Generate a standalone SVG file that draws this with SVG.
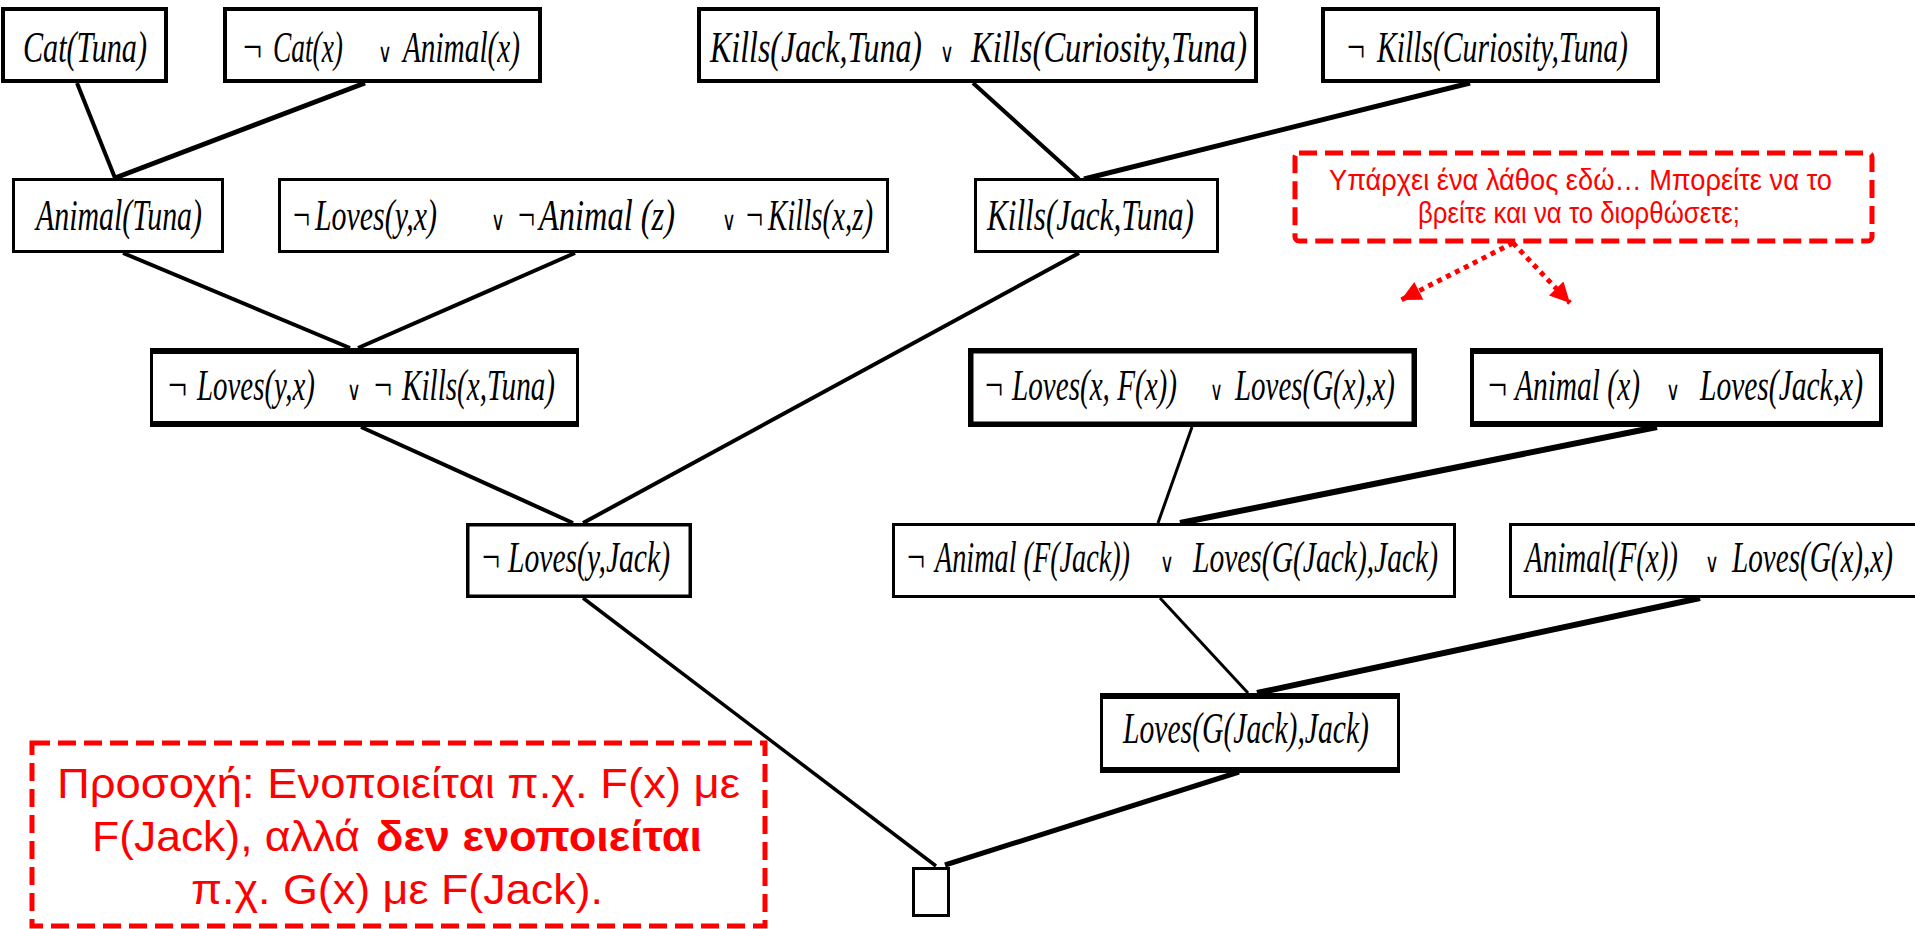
<svg xmlns="http://www.w3.org/2000/svg" width="1915" height="929" viewBox="0 0 1915 929">
<style>
.bx{fill:#fff;stroke:#000}
.t{font-family:"Liberation Serif","DejaVu Serif",serif;font-style:italic;font-size:30px;fill:#000}
.n{font-family:"Liberation Serif","DejaVu Serif",serif;font-size:30px;fill:#000}
.v{font-family:"DejaVu Serif","Liberation Serif",serif;font-size:18px;fill:#000}
.tb{stroke:#000;stroke-width:6}
.c{stroke:#000;fill:none;stroke-linecap:butt}
.rb{fill:none;stroke:#ff0000;stroke-width:5;stroke-dasharray:18 8}
.rt{font-family:"Liberation Sans","Arial",sans-serif;fill:#ff0000}
.ra{stroke:#ff0000;stroke-width:5;stroke-dasharray:5 5;fill:none}
</style>
<defs>
<marker id="ah" viewBox="0 0 20 20" refX="20" refY="10" markerWidth="22" markerHeight="20" markerUnits="userSpaceOnUse" orient="auto">
<path d="M0,0 L20,10 L0,20 z" fill="#ff0000"/>
</marker>
</defs>
<rect width="1915" height="929" fill="#fff"/>
<g id="connectors">
<line class="c" x1="77" y1="83" x2="115" y2="178" stroke-width="4"/>
<line class="c" x1="365" y1="83" x2="115" y2="178" stroke-width="5"/>
<line class="c" x1="123" y1="253" x2="350" y2="348" stroke-width="4"/>
<line class="c" x1="575" y1="253" x2="358" y2="348" stroke-width="4"/>
<line class="c" x1="361" y1="427" x2="573" y2="523" stroke-width="4"/>
<line class="c" x1="973" y1="83" x2="1079" y2="179" stroke-width="4"/>
<line class="c" x1="1470" y1="83" x2="1084" y2="179" stroke-width="5"/>
<line class="c" x1="1079" y1="253" x2="583" y2="523" stroke-width="4"/>
<line class="c" x1="1192" y1="427" x2="1158" y2="523" stroke-width="3"/>
<line class="c" x1="1657" y1="427" x2="1180" y2="523" stroke-width="6"/>
<line class="c" x1="1160" y1="598" x2="1248" y2="693" stroke-width="3"/>
<line class="c" x1="1700" y1="598" x2="1257" y2="693" stroke-width="6"/>
<line class="c" x1="583" y1="598" x2="936" y2="866" stroke-width="3.5"/>
<line class="c" x1="1239" y1="772" x2="945" y2="865" stroke-width="5"/>
</g>
<g id="n1">
<rect class="bx" x="3" y="9" width="163" height="72" stroke-width="4"/>
<g transform="translate(0,62) scale(1,1.45)">
<text class="t" x="23" y="0" textLength="124" lengthAdjust="spacingAndGlyphs">Cat(Tuna)</text>
</g>
</g>
<g id="n2">
<rect class="bx" x="225" y="9" width="315" height="72" stroke-width="4"/>
<g transform="translate(0,62) scale(1,1.45)">
<text class="n" x="243" y="0" textLength="19" lengthAdjust="spacingAndGlyphs">¬</text>
<text class="t" x="273" y="0" textLength="70" lengthAdjust="spacingAndGlyphs">Cat(x)</text>
<text class="v" x="378" y="0" textLength="14" lengthAdjust="spacingAndGlyphs">∨</text>
<text class="t" x="403" y="0" textLength="117" lengthAdjust="spacingAndGlyphs">Animal(x)</text>
</g>
</g>
<g id="n3">
<rect class="bx" x="699" y="9" width="557" height="72" stroke-width="4"/>
<g transform="translate(0,62) scale(1,1.45)">
<text class="t" x="710" y="0" textLength="212" lengthAdjust="spacingAndGlyphs">Kills(Jack,Tuna)</text>
<text class="v" x="940" y="0" textLength="14" lengthAdjust="spacingAndGlyphs">∨</text>
<text class="t" x="971" y="0" textLength="276" lengthAdjust="spacingAndGlyphs">Kills(Curiosity,Tuna)</text>
</g>
</g>
<g id="n4">
<rect class="bx" x="1323" y="9" width="335" height="72" stroke-width="4"/>
<g transform="translate(0,62) scale(1,1.45)">
<text class="n" x="1347" y="0" textLength="18" lengthAdjust="spacingAndGlyphs">¬</text>
<text class="t" x="1377" y="0" textLength="251" lengthAdjust="spacingAndGlyphs">Kills(Curiosity,Tuna)</text>
</g>
</g>
<g id="n5">
<rect class="bx" x="13.5" y="179.5" width="209" height="72" stroke-width="3"/>
<g transform="translate(0,230) scale(1,1.45)">
<text class="t" x="36" y="0" textLength="166" lengthAdjust="spacingAndGlyphs">Animal(Tuna)</text>
</g>
</g>
<g id="n6">
<rect class="bx" x="279.5" y="179.5" width="608" height="72" stroke-width="3"/>
<g transform="translate(0,230) scale(1,1.45)">
<text class="n" x="293" y="0" textLength="17" lengthAdjust="spacingAndGlyphs">¬</text>
<text class="t" x="315" y="0" textLength="122" lengthAdjust="spacingAndGlyphs">Loves(y,x)</text>
<text class="v" x="491" y="0" textLength="14" lengthAdjust="spacingAndGlyphs">∨</text>
<text class="n" x="518" y="0" textLength="17" lengthAdjust="spacingAndGlyphs">¬</text>
<text class="t" x="539" y="0" textLength="136" lengthAdjust="spacingAndGlyphs">Animal (z)</text>
<text class="v" x="722" y="0" textLength="14" lengthAdjust="spacingAndGlyphs">∨</text>
<text class="n" x="746" y="0" textLength="17" lengthAdjust="spacingAndGlyphs">¬</text>
<text class="t" x="768" y="0" textLength="105" lengthAdjust="spacingAndGlyphs">Kills(x,z)</text>
</g>
</g>
<g id="n7">
<rect class="bx" x="975.5" y="179.5" width="242" height="72" stroke-width="3"/>
<g transform="translate(0,230) scale(1,1.45)">
<text class="t" x="987" y="0" textLength="207" lengthAdjust="spacingAndGlyphs">Kills(Jack,Tuna)</text>
</g>
</g>
<g id="n8">
<rect class="bx" x="151.5" y="350" width="426" height="75" stroke-width="3"/>
<line class="tb" x1="150" y1="351" x2="579" y2="351"/>
<line class="tb" x1="150" y1="424" x2="579" y2="424"/>
<g transform="translate(0,400) scale(1,1.45)">
<text class="n" x="168" y="0" textLength="19" lengthAdjust="spacingAndGlyphs">¬</text>
<text class="t" x="197" y="0" textLength="118" lengthAdjust="spacingAndGlyphs">Loves(y,x)</text>
<text class="v" x="347" y="0" textLength="14" lengthAdjust="spacingAndGlyphs">∨</text>
<text class="n" x="374" y="0" textLength="18" lengthAdjust="spacingAndGlyphs">¬</text>
<text class="t" x="402" y="0" textLength="153" lengthAdjust="spacingAndGlyphs">Kills(x,Tuna)</text>
</g>
</g>
<g id="n9">
<rect class="bx" x="970.75" y="350.75" width="443.5" height="73.5" stroke-width="5.5"/>
<g transform="translate(0,400) scale(1,1.45)">
<text class="n" x="985" y="0" textLength="18" lengthAdjust="spacingAndGlyphs">¬</text>
<text class="t" x="1012" y="0" textLength="165" lengthAdjust="spacingAndGlyphs">Loves(x, F(x))</text>
<text class="v" x="1210" y="0" textLength="13" lengthAdjust="spacingAndGlyphs">∨</text>
<text class="t" x="1235" y="0" textLength="160" lengthAdjust="spacingAndGlyphs">Loves(G(x),x)</text>
</g>
</g>
<g id="n10">
<rect class="bx" x="1472" y="350" width="409" height="75" stroke-width="4"/>
<line class="tb" x1="1470" y1="351" x2="1883" y2="351"/>
<line class="tb" x1="1470" y1="424" x2="1883" y2="424"/>
<g transform="translate(0,400) scale(1,1.45)">
<text class="n" x="1488" y="0" textLength="19" lengthAdjust="spacingAndGlyphs">¬</text>
<text class="t" x="1515" y="0" textLength="125" lengthAdjust="spacingAndGlyphs">Animal (x)</text>
<text class="v" x="1666" y="0" textLength="14" lengthAdjust="spacingAndGlyphs">∨</text>
<text class="t" x="1700" y="0" textLength="163" lengthAdjust="spacingAndGlyphs">Loves(Jack,x)</text>
</g>
</g>
<g id="n11">
<rect class="bx" x="467.75" y="524.75" width="222.5" height="71.5" stroke-width="3.5"/>
<g transform="translate(0,572) scale(1,1.45)">
<text class="n" x="482" y="0" textLength="18" lengthAdjust="spacingAndGlyphs">¬</text>
<text class="t" x="508" y="0" textLength="162" lengthAdjust="spacingAndGlyphs">Loves(y,Jack)</text>
</g>
</g>
<g id="n12">
<rect class="bx" x="893.5" y="524.5" width="561" height="72" stroke-width="3"/>
<g transform="translate(0,572) scale(1,1.45)">
<text class="n" x="907" y="0" textLength="18" lengthAdjust="spacingAndGlyphs">¬</text>
<text class="t" x="935" y="0" textLength="195" lengthAdjust="spacingAndGlyphs">Animal (F(Jack))</text>
<text class="v" x="1160" y="0" textLength="14" lengthAdjust="spacingAndGlyphs">∨</text>
<text class="t" x="1193" y="0" textLength="245" lengthAdjust="spacingAndGlyphs">Loves(G(Jack),Jack)</text>
</g>
</g>
<g id="n13">
<rect class="bx" x="1510.5" y="524.5" width="420" height="72" stroke-width="3"/>
<g transform="translate(0,572) scale(1,1.45)">
<text class="t" x="1525" y="0" textLength="153" lengthAdjust="spacingAndGlyphs">Animal(F(x))</text>
<text class="v" x="1705" y="0" textLength="14" lengthAdjust="spacingAndGlyphs">∨</text>
<text class="t" x="1732" y="0" textLength="161" lengthAdjust="spacingAndGlyphs">Loves(G(x),x)</text>
</g>
</g>
<g id="n14">
<rect class="bx" x="1101.5" y="695" width="297" height="76" stroke-width="3"/>
<line class="tb" x1="1100" y1="696" x2="1400" y2="696"/>
<line class="tb" x1="1100" y1="770" x2="1400" y2="770"/>
<g transform="translate(0,743) scale(1,1.45)">
<text class="t" x="1123" y="0" textLength="246" lengthAdjust="spacingAndGlyphs">Loves(G(Jack),Jack)</text>
</g>
</g>
<g id="n15">
<rect class="bx" x="913.5" y="868.5" width="35" height="47" stroke-width="3"/>
</g>
<g id="note-top">
<rect class="rb" x="1295" y="153" width="577" height="88" rx="4"/>
<text class="rt" x="1329" y="190" font-size="29" textLength="503" lengthAdjust="spacingAndGlyphs">Υπάρχει ένα λάθος εδώ… Μπορείτε να το</text>
<text class="rt" x="1418" y="223" font-size="29" textLength="322" lengthAdjust="spacingAndGlyphs">βρείτε και να το διορθώσετε;</text>
<path class="ra" d="M1513,243 L1401,300" marker-end="url(#ah)"/>
<path class="ra" d="M1513,243 L1570,303" marker-end="url(#ah)"/>
</g>
<g id="note-bottom">
<rect class="rb" x="32" y="743" width="733" height="183"/>
<text class="rt" x="57" y="798" font-size="43" textLength="683" lengthAdjust="spacingAndGlyphs">Προσοχή: Ενοποιείται π.χ. F(x) με</text>
<text class="rt" x="92" y="851" font-size="43" textLength="268" lengthAdjust="spacingAndGlyphs">F(Jack), αλλά</text>
<text class="rt" x="376" y="851" font-size="43" font-weight="bold" textLength="326" lengthAdjust="spacingAndGlyphs">δεν ενοποιείται</text>
<text class="rt" x="191" y="904" font-size="43" textLength="412" lengthAdjust="spacingAndGlyphs">π.χ. G(x) με F(Jack).</text>
</g>
</svg>
